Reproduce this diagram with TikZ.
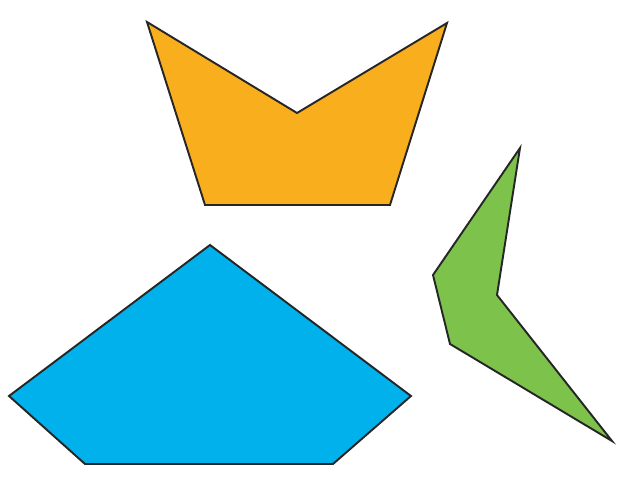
\documentclass[tikz,border=0pt]{standalone}
\usepackage{tikz}

\definecolor{crownorange}{HTML}{F9AE1D}
\definecolor{kiteblue}{HTML}{00B1EC}
\definecolor{boomgreen}{HTML}{7DC24B}

\begin{document}
\begin{tikzpicture}[
  x=0.02cm,y=-0.02cm,
  poly/.style={draw=black!85,line width=1.1pt,line join=miter},
  crown/.style={poly,fill=crownorange},
  kite/.style={poly,fill=kiteblue},
  boom/.style={poly,fill=boomgreen}
]
\useasboundingbox (0,0) rectangle (630,482);

% ---- poligonul portocaliu (sus) ----
\coordinate (c1) at (147,22);
\coordinate (c2) at (297,113);
\coordinate (c3) at (447,23);
\coordinate (c4) at (390,205);
\coordinate (c5) at (205,205);
\draw[crown] (c1) -- (c2) -- (c3) -- (c4) -- (c5) -- cycle;

% ---- pentagonul albastru (jos) ----
\coordinate (p1) at (210,245);
\coordinate (p2) at (411,396);
\coordinate (p3) at (333,464);
\coordinate (p4) at (85,464);
\coordinate (p5) at (9,396);
\draw[kite] (p1) -- (p2) -- (p3) -- (p4) -- (p5) -- cycle;

% ---- poligonul verde (dreapta) ----
\coordinate (g1) at (520,148);
\coordinate (g2) at (497,295);
\coordinate (g3) at (612,441);
\coordinate (g4) at (450,344);
\coordinate (g5) at (433,275);
\draw[boom] (g1) -- (g2) -- (g3) -- (g4) -- (g5) -- cycle;

\end{tikzpicture}
\end{document}
